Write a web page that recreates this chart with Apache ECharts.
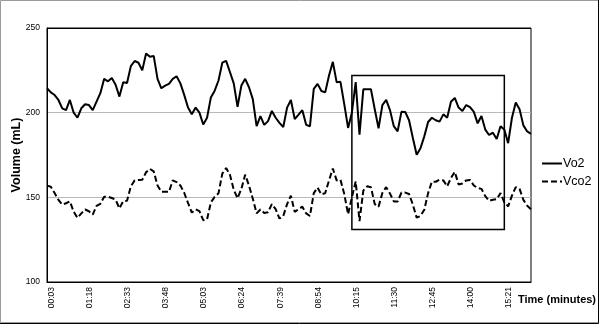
<!DOCTYPE html>
<html>
<head>
<meta charset="utf-8">
<script src="https://cdn.jsdelivr.net/npm/echarts@6/dist/echarts.min.js"></script>
<style>
  html, body { margin: 0; padding: 0; background: #fff; }
  #chart { width: 600px; height: 324px; }
</style>
</head>
<body>
<div id="chart"></div>
<script>
// time labels shown every 10 samples
const tickLabels = ['00:03', '01:18', '02:33', '03:48', '05:03', '06:24', '07:39',
  '08:54', '10:15', '11:30', '12:45', '14:00', '15:21']

const vo2 = [
  214.4, 212, 210.4, 207.5, 202.5, 201.5, 207.5, 200, 197, 202.6, 205, 204.5, 201.5,
  206.5, 211.5, 220, 218.5, 220.5, 216.5, 209.5, 218, 217.5, 227.5, 230.5, 229.5, 225,
  235, 233, 233.5, 220, 214.4, 216, 217, 220, 221.5, 217.3, 210.5, 203, 199,
  203, 200, 193, 197, 209, 213, 219, 229.5, 230.6, 224, 217.3, 203.5, 216,
  220, 215, 208, 192, 198, 192.8, 195, 201, 197, 194, 191.5, 203, 207.5,
  196.2, 198.8, 201.5, 192.8, 192, 214, 217, 212.8, 212, 222, 230, 218, 218.2,
  205, 191, 200, 218, 187, 213.8, 213.8, 213.8, 202, 190.8, 204.5, 207.5, 201.5,
  192, 189, 200.5, 200.4, 195.5, 185, 175.1, 179, 186, 194.5, 197, 195.5, 194.7,
  199, 197, 206.5, 208.7, 203, 201, 204.5, 203.3, 200.5, 193.7, 198, 190,
  186.8, 188.2, 184.5, 192, 190, 182, 197, 206, 202, 192.5, 188.9, 187.5
]

const vco2 = [
  156.9, 156.3, 152.5, 148.5, 145.7, 146.5, 147.6, 141.5, 137.9, 140.5, 142.8, 141.8, 139.8,
  145, 146.2, 150.4, 150.4, 149.6, 148.6, 143.5, 147.8, 148, 156.5, 160, 160.3, 160.4,
  164.8, 166.8, 165.3, 157, 153.3, 153.3, 153.2, 160, 159, 157, 152.7, 146.7, 141,
  142.9, 141.8, 136.5, 137, 147, 150.3, 152.4, 164, 167.3, 163.3, 154.5, 149.5, 155,
  163.4, 157, 149.2, 140.5, 142.8, 140.8, 141.2, 146, 143, 137.5, 139, 146, 151,
  141.4, 143, 144.5, 140.5, 139, 152.5, 155.8, 151.7, 152.5, 160, 167, 160, 160.4,
  152, 140, 150, 159.4, 136, 154, 156.5, 156, 146, 144.5, 152.6, 156, 152.2,
  147.6, 147.5, 152.8, 152.8, 152, 145.7, 138, 139, 142.7, 152.5, 159.3, 159.2, 160.4,
  160, 156.5, 161.4, 165, 157.6, 158.2, 160, 160.3, 157, 155.5, 155, 150.7,
  148, 148.6, 148.9, 152.5, 147, 144.7, 151, 156, 155, 148.5, 145, 143
]

// highlighted window (sample index range, volume range)
const boxX = [80, 120]
const boxY = [222, 131]

const samples = vo2.map((_, i) => String(i))
const font = 'Liberation Sans'

var myChart = echarts.init(document.getElementById('chart'))
myChart.setOption({
  animation: false,
  grid: {
    left: 47, right: 69, top: 28, bottom: 42,
    outerBoundsMode: 'none',
    containLabel: false,
    show: true, borderColor: '#000', borderWidth: 1
  },
  legend: {
    orient: 'vertical',
    left: 541,
    top: 157,
    itemWidth: 20,
    itemHeight: 12,
    itemGap: 5,
    padding: 0,
    itemStyle: { opacity: 0 },
    textStyle: { fontSize: 12.5, color: '#000', fontFamily: font, padding: [0, 0, 0, -4] },
    data: ['Vo2', 'Vco2']
  },
  xAxis: {
    type: 'category',
    data: samples,
    boundaryGap: false,
    axisLine: { lineStyle: { color: '#000', width: 1 } },
    axisTick: { show: false },
    axisLabel: {
      interval: 9,
      rotate: 90,
      margin: 5,
      fontSize: 8.5,
      color: '#000',
      fontFamily: font,
      verticalAlign: 'top',
      formatter: (v, i) => tickLabels[i / 10] || ''
    },
    name: 'Time (minutes)',
    nameLocation: 'end',
    nameGap: -13,
    nameTextStyle: {
      fontWeight: 'bold', fontSize: 11, color: '#000', fontFamily: font,
      verticalAlign: 'top', padding: [12, 0, 0, 0]
    }
  },
  yAxis: {
    type: 'value',
    min: 100,
    max: 250,
    interval: 50,
    axisLine: { show: true, lineStyle: { color: '#000', width: 1 } },
    axisTick: { show: false },
    axisLabel: { fontSize: 8.5, color: '#000', fontFamily: font, margin: 7 },
    splitLine: { lineStyle: { color: ['#000', '#bdb6bd', '#bdb6bd', '#000'], width: 1 } },
    name: 'Volume (mL)',
    nameLocation: 'middle',
    nameGap: 24,
    nameMoveOverlap: false,
    nameTextStyle: { fontWeight: 'bold', fontSize: 12.5, color: '#000', fontFamily: font }
  },
  series: [
    {
      name: 'Vo2',
      type: 'line',
      data: vo2,
      symbol: 'none',
      lineStyle: { color: '#000', width: 2 },
      itemStyle: { color: '#000' },
      markArea: {
        silent: true,
        label: { show: false },
        itemStyle: { color: 'rgba(0,0,0,0)', borderColor: '#000', borderWidth: 1.5 },
        data: [[{ xAxis: boxX[0], yAxis: boxY[0] }, { xAxis: boxX[1], yAxis: boxY[1] }]]
      }
    },
    {
      name: 'Vco2',
      type: 'line',
      data: vco2,
      symbol: 'none',
      lineStyle: { color: '#000', width: 2, type: [6, 3] },
      itemStyle: { color: '#000' }
    }
  ],
  graphic: [
    { type: 'rect', silent: true, shape: { x: 0.5, y: 0.5, width: 598, height: 322 },
      style: { fill: 'none', stroke: '#9a9a9a', lineWidth: 1 } },
    { type: 'polyline', silent: true, shape: { points: [[598.5, 0], [598.5, 323.5], [0, 323.5]] },
      style: { fill: 'none', stroke: '#000', lineWidth: 1 } }
  ]
})
</script>
</body>
</html>
